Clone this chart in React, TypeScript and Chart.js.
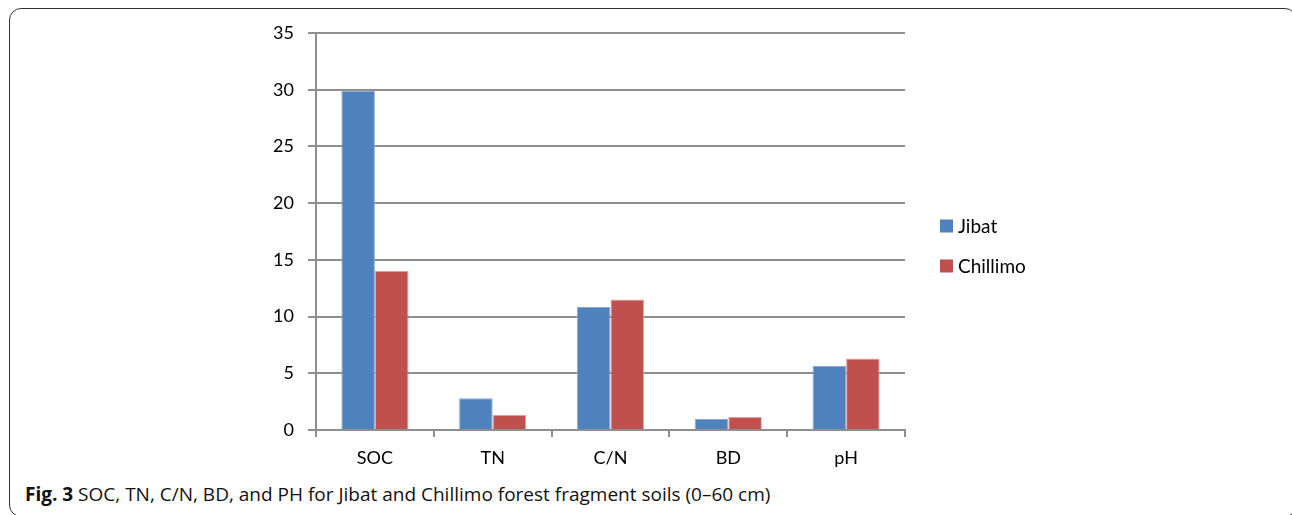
import React, { useEffect, useRef } from "react";
import { Chart, registerables } from "chart.js";

Chart.register(...registerables);

const categories = ["SOC", "TN", "C/N", "BD", "pH"];
const jibatValues = [29.9, 2.8, 10.85, 0.97, 5.64];
const chillimoValues = [14.05, 1.35, 11.5, 1.15, 6.3];
const seriesNames = ["Jibat", "Chillimo"];
const yTicks = [0, 5, 10, 15, 20, 25, 30, 35];

const BLUE = "#4F81BD";
const RED = "#C0504D";
const GRID = "#8f8f8f";
const FONT = "Lato, 'Open Sans', sans-serif";

const legendPlugin = {
  id: "sideLegend",
  afterDraw(chart: any) {
    const ctx = chart.ctx;
    const area = chart.chartArea;
    ctx.save();
    ctx.font = `19px ${FONT}`;
    ctx.textBaseline = "middle";
    ctx.textAlign = "left";
    chart.data.datasets.forEach((ds: any, i: number) => {
      const x = area.right + 35;
      const cy = 226 + i * 40;
      ctx.fillStyle = ds.backgroundColor;
      ctx.fillRect(x, cy - 6.5, 13, 13);
      ctx.fillStyle = "#000";
      ctx.fillText(ds.label, x + 18, cy + 1);
    });
    ctx.restore();
  },
};

export default function App() {
  const ref = useRef<HTMLCanvasElement | null>(null);

  useEffect(() => {
    if (!ref.current) return;
    const chart = new Chart(ref.current, {
      type: "bar",
      data: {
        labels: categories,
        datasets: [
          {
            label: seriesNames[0],
            data: jibatValues,
            backgroundColor: BLUE,
            borderColor: "#8aaad6",
            borderWidth: 1,
            barPercentage: 1,
            categoryPercentage: 0.57,
          },
          {
            label: seriesNames[1],
            data: chillimoValues,
            backgroundColor: RED,
            borderColor: "#e3a3a1",
            borderWidth: 1,
            barPercentage: 1,
            categoryPercentage: 0.57,
          },
        ],
      },
      options: {
        animation: false,
        responsive: false,
        maintainAspectRatio: false,
        devicePixelRatio: 1,
        layout: { padding: { left: 0, top: 33, right: 387, bottom: 0 } },
        plugins: {
          legend: { display: false },
          tooltip: { enabled: false },
          title: { display: false },
        },
        scales: {
          x: {
            offset: true,
            grid: {
              display: true,
              drawOnChartArea: false,
              drawTicks: true,
              tickLength: 7,
              color: GRID,
              lineWidth: 2,
              offset: true,
            },
            border: { display: true, color: GRID, width: 2 },
            ticks: {
              color: "#000",
              font: { family: FONT, size: 18 },
              padding: 10,
              maxRotation: 0,
            },
            afterFit(scale: any) {
              scale.height = 50;
            },
          },
          y: {
            min: 0,
            max: 35,
            afterBuildTicks(scale: any) {
              scale.ticks = yTicks.map((v) => ({ value: v }));
            },
            grid: {
              color: GRID,
              lineWidth: 2,
              drawTicks: true,
              tickLength: 8,
            },
            border: { display: true, color: GRID, width: 2 },
            ticks: {
              color: "#000",
              font: { family: FONT, size: 18 },
              padding: 14,
            },
            afterFit(scale: any) {
              scale.width = 316;
            },
          },
        },
      },
      plugins: [legendPlugin],
    });
    return () => chart.destroy();
  }, []);

  return (
    <div
      style={{
        position: "fixed",
        left: 0,
        top: 0,
        width: 1292,
        height: 515,
        overflow: "hidden",
        background: "#fff",
      }}
    >
      <div
        style={{
          position: "absolute",
          left: 9,
          top: 8,
          width: 1288,
          height: 509,
          border: "1.5px solid #333",
          borderRadius: 12,
          boxSizing: "border-box",
        }}
      />
      <canvas
        ref={ref}
        width={1292}
        height={480}
        style={{ position: "absolute", left: 0, top: 0, width: 1292, height: 480 }}
      />
      <div
        style={{
          position: "absolute",
          left: 25,
          top: 482,
          fontFamily: "'Open Sans', sans-serif",
          fontSize: 19,
          color: "#111",
          whiteSpace: "nowrap",
          lineHeight: "24px",
        }}
      >
        <b>Fig. 3</b> SOC, TN, C/N, BD, and PH for Jibat and Chillimo forest fragment soils (0–60 cm)
      </div>
    </div>
  );
}
